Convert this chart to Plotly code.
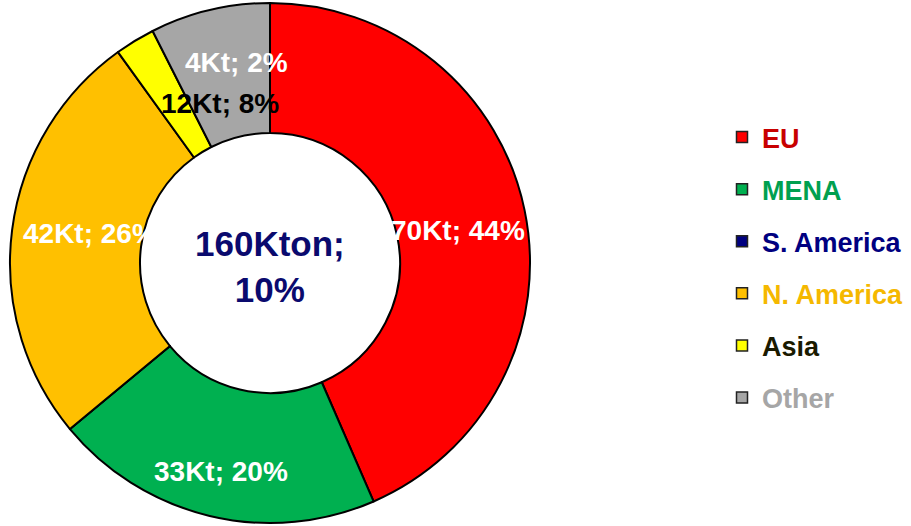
import plotly.graph_objects as go

W, H = 911, 526

regions = ["EU", "MENA", "S. America", "N. America", "Asia", "Other"]
kton = [70, 33, 0, 42, 4, 12]
slice_colors = ["#FF0000", "#00B050", "#000080", "#FFC000", "#FFFF00", "#A6A6A6"]
legend_text_colors = ["#C80000", "#00A050", "#000080", "#F5B800", "#1A1A00", "#A6A6A6"]

slice_labels = ["70Kt; 44%", "33Kt; 20%", "42Kt; 26%", "12Kt; 8%", "4Kt; 2%"]
slice_label_colors = ["white", "white", "white", "black", "white"]
center_text = "160Kton;<br>10%"

FONT = "Liberation Sans, Arial, sans-serif"


def px(x, y):
    # pixel position in the 911x526 page -> paper coords (no margins)
    return x / W, 1 - y / H


fig = go.Figure()

fig.add_trace(go.Pie(
    labels=regions,
    values=kton,
    sort=False,
    direction="clockwise",
    rotation=0,
    hole=0.5,
    textinfo="none",
    marker=dict(colors=slice_colors, line=dict(color="black", width=2)),
    domain=dict(x=[10 / W, 530 / W], y=[3 / H, 523 / H]),
    showlegend=False,
))

# legend entries (one trace per region so the spacing can be set)
for i, (name, col, tcol) in enumerate(zip(regions, slice_colors, legend_text_colors)):
    fig.add_trace(go.Scatter(
        x=[None], y=[None], mode="markers",
        name=f"<span style='color:{tcol}'>{name}</span>",
        legendgroup=f"g{i}",
        marker=dict(symbol="square", size=11, color=col, line=dict(color="#222222", width=1.5)),
    ))

label_pos = [(458, 230), (221, 471), (90, 234), (220, 103), (236, 62)]
annotations = []
for text, col, (lx, ly) in zip(slice_labels, slice_label_colors, label_pos):
    ax, ay = px(lx, ly)
    annotations.append(dict(
        x=ax, y=ay, xref="paper", yref="paper", text=f"<b>{text}</b>",
        showarrow=False, xanchor="center", yanchor="middle",
        font=dict(family=FONT, size=28, color=col),
    ))

cx, cy = px(270, 266)
annotations.append(dict(
    x=cx, y=cy, xref="paper", yref="paper", text=f"<b>{center_text}</b>",
    showarrow=False, xanchor="center", yanchor="middle",
    font=dict(family=FONT, size=35, color="#0A0A6E"),
))

lx, ly = px(722, 113)
fig.update_layout(
    width=W, height=H,
    margin=dict(l=0, r=0, t=0, b=0),
    paper_bgcolor="white",
    plot_bgcolor="white",
    xaxis=dict(visible=False),
    yaxis=dict(visible=False),
    annotations=annotations,
    legend=dict(
        x=lx, y=ly, xanchor="left", yanchor="top",
        font=dict(family=FONT, size=27, color="black", weight="bold"),
        tracegroupgap=14,
        bgcolor="rgba(0,0,0,0)",
        itemclick=False, itemdoubleclick=False,
    ),
    showlegend=True,
)

fig.write_html("out.html", config={"displayModeBar": False},
               post_script="document.body.style.margin='0';")
